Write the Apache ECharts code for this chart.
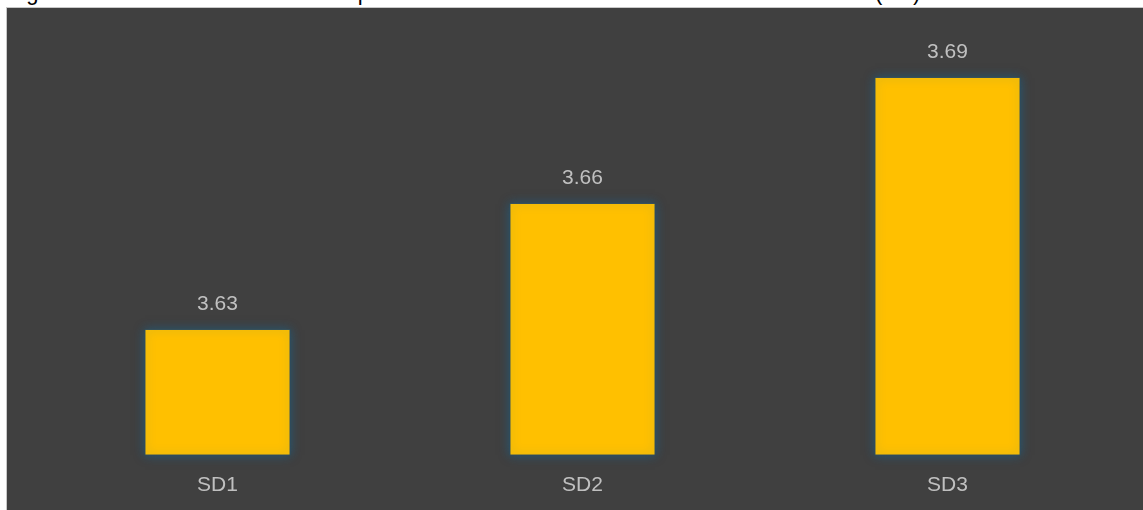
<!DOCTYPE html>
<html>
<head>
<meta charset="utf-8">
<script src="https://cdn.jsdelivr.net/npm/echarts@6/dist/echarts.min.js"></script>
<style>
  html, body { margin: 0; padding: 0; background: #ffffff; overflow: hidden; }
  body { width: 1143px; height: 510px; position: relative; }
  #title {
    position: absolute; left: 8px; top: -18px;
    font: 22px/22px "Liberation Sans", Arial, sans-serif; color: #000;
    white-space: nowrap;
  }
  #frame {
    position: absolute; left: 6px; top: 7px; right: 0; bottom: 0;
    border-left: 1px solid #c8c8c8; border-top: 1px solid #c8c8c8;
    background: #404040;
  }
  #chart { position: absolute; left: 0; top: 0; width: 100%; height: 100%; }
</style>
</head>
<body>
<div id="title">Figure 4: Mean scores for the three patient subdomains of the overall health status scale (SD)</div>
<div id="frame"><div id="chart"></div></div>
<script>
// Subdomain names and their mean scores
const categories = ['SD1', 'SD2', 'SD3'];
const meanScores = [3.63, 3.66, 3.69];

const labelFont = '"Liberation Sans", Arial, sans-serif';
const chart = echarts.init(document.getElementById('chart'));
chart.setOption({
  backgroundColor: '#404040',
  animation: false,
  grid: { left: 28, right: 13, top: 27, bottom: 55 },
  xAxis: {
    type: 'category',
    data: categories,
    axisLine: { show: false },
    axisTick: { show: false },
    axisLabel: { color: '#c0c0c0', fontSize: 21, fontFamily: labelFont, margin: 20 }
  },
  yAxis: {
    type: 'value',
    min: 3.6,
    max: 3.7,
    show: false,
    splitLine: { show: false }
  },
  series: [{
    type: 'bar',
    data: meanScores,
    barWidth: '40%',
    itemStyle: {
      color: '#FFC000',
      borderColor: 'rgba(45,75,95,0.9)',
      borderWidth: 1,
      shadowColor: 'rgba(20,110,160,0.55)',
      shadowBlur: 10
    },
    label: {
      show: true,
      position: 'top',
      distance: 14,
      color: '#c0c0c0',
      fontSize: 21,
      fontFamily: labelFont,
      formatter: p => p.value.toFixed(2)
    }
  }]
});
</script>
</body>
</html>
